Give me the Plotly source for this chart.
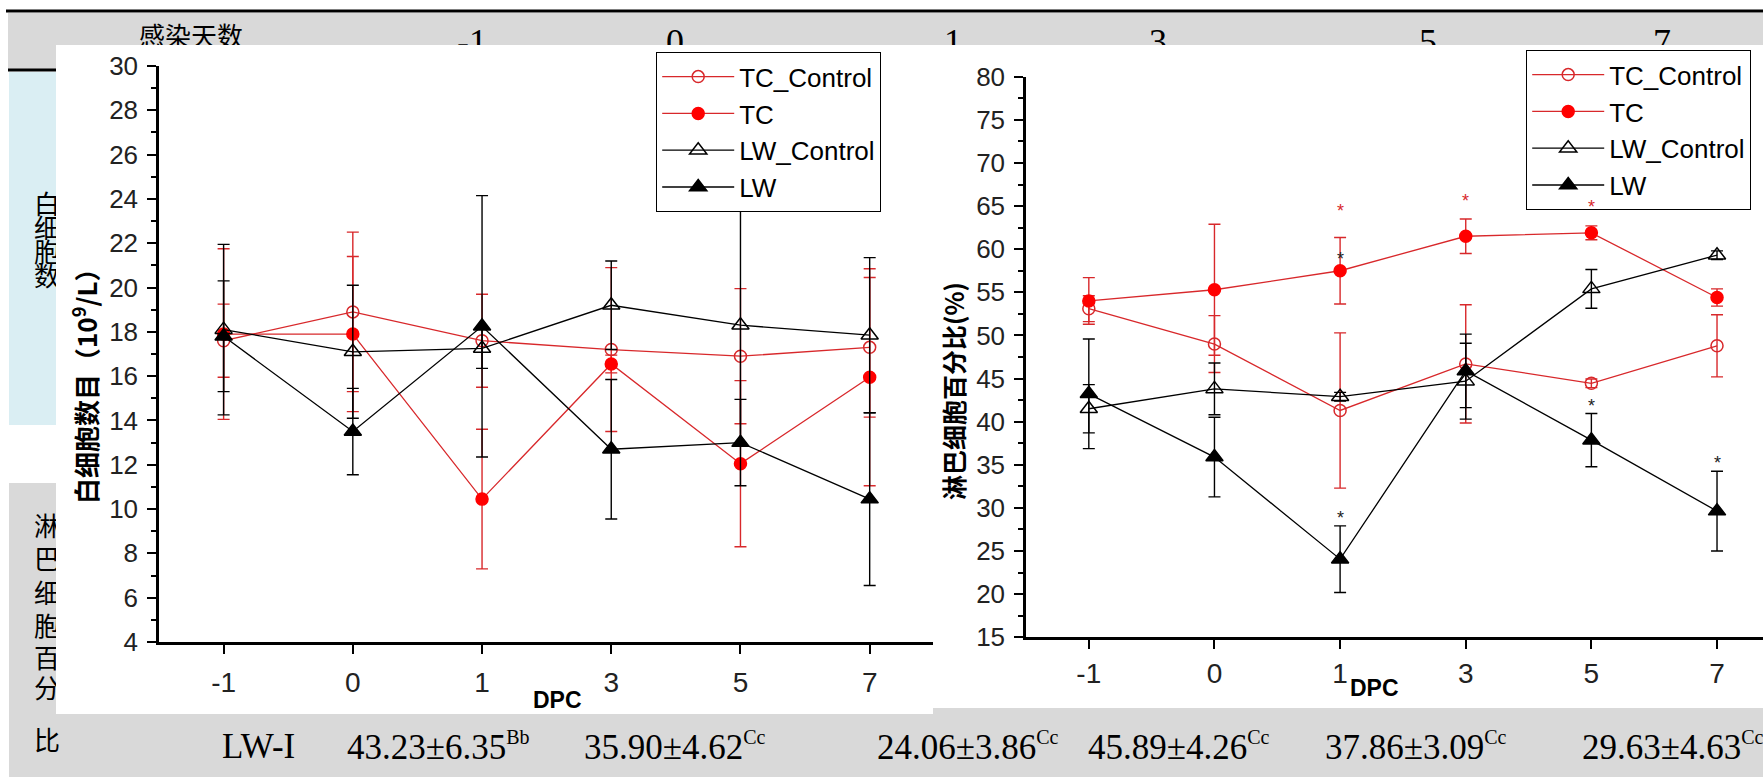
import plotly.graph_objects as go

W, H = 1763, 777


def px(x):
    return x / W


def py(y):
    return 1 - y / H


# ---------------- data ----------------
dpc = ["-1", "0", "1", "3", "5", "7"]
series_names = ["TC_Control", "TC", "LW_Control", "LW"]

wbc_tc_control = [17.6, 18.9, 17.6, 17.2, 16.9, 17.3]
wbc_tc_control_sd = [1.65, 3.6, 2.1, 3.7, 3.05, 3.15]
wbc_tc = [17.9, 17.9, 10.45, 16.55, 12.05, 15.95]
wbc_tc_sd = [3.85, 3.5, 3.15, 0.4, 3.75, 4.9]
wbc_lw_control = [18.1, 17.1, 17.25, 19.2, 18.3, 17.85]
wbc_lw_control_sd = [3.85, 3.0, 0.9, 2.0, 5.3, 3.5]
wbc_lw = [17.8, 13.5, 18.25, 12.7, 13.0, 10.45]
wbc_lw_sd = [2.5, 1.95, 5.9, 3.15, 1.95, 3.9]

lym_tc_control = [53.1, 49.0, 41.3, 46.7, 44.45, 48.8]
lym_tc_control_sd = [1.5, 3.3, 9.0, 6.85, 0.5, 3.6]
lym_tc = [54.0, 55.3, 57.5, 61.5, 61.9, 54.4]
lym_tc_sd = [2.7, 7.6, 3.85, 2.0, 0.8, 1.0]
lym_lw_control = [41.5, 43.8, 42.9, 44.7, 55.4, 59.3]
lym_lw_control_sd = [2.8, 3.0, 0.5, 4.4, 2.25, 0.5]
lym_lw = [43.23, 35.90, 24.06, 45.89, 37.86, 29.63]
lym_lw_sd = [6.35, 4.62, 3.86, 4.26, 3.09, 4.63]

star_x = ["1", "1", "1", "3", "5", "5", "7"]
star_y = [64.9, 59.3, 29.3, 66.1, 65.3, 42.3, 35.7]
star_is_red = [True, False, False, True, True, False, False]

wbc_yticks = [4, 6, 8, 10, 12, 14, 16, 18, 20, 22, 24, 26, 28, 30]
lym_yticks = [15, 20, 25, 30, 35, 40, 45, 50, 55, 60, 65, 70, 75, 80]

# table texts
header_texts = ["感染天数", "-1", "0", "1", "3", "5", "7"]
row1_label = "白细胞数"
row2_label = "淋巴细胞百分比"
bottom_texts = ["LW-I", "43.23±6.35", "35.90±4.62", "24.06±3.86",
                "45.89±4.26", "37.86±3.09", "29.63±4.63"]
bottom_sups = ["", "Bb", "Cc", "Cc", "Cc", "Cc", "Cc"]

# ---------------- layout positions (pixels) ----------------
header_x = [191, 472, 675, 953, 1158, 1428, 1662]
header_y = 38
row1_y = [206, 230, 254, 278]
row2_y = [528, 561, 595, 628, 660, 690, 742]
row_label_x = 47
bottom_x = [220, 345, 582, 875, 1086, 1323, 1580]
bottom_y = 746

RED_LINE = "#d8282b"
RED = "#ff0000"
BLACK = "#000000"

styles = {
    "TC_Control": dict(color=RED_LINE, mcolor=RED_LINE, symbol="circle-open", size=12),
    "TC": dict(color=RED_LINE, mcolor=RED, symbol="circle", size=12),
    "LW_Control": dict(color=BLACK, mcolor=BLACK, symbol="triangle-up-open", size=15),
    "LW": dict(color=BLACK, mcolor=BLACK, symbol="triangle-up", size=15),
}

fig = go.Figure()

left_sets = [(wbc_tc_control, wbc_tc_control_sd), (wbc_tc, wbc_tc_sd),
             (wbc_lw_control, wbc_lw_control_sd), (wbc_lw, wbc_lw_sd)]
right_sets = [(lym_tc_control, lym_tc_control_sd), (lym_tc, lym_tc_sd),
              (lym_lw_control, lym_lw_control_sd), (lym_lw, lym_lw_sd)]

for (vals, sds), name in zip(left_sets, series_names):
    st = styles[name]
    fig.add_trace(go.Scatter(
        x=dpc, y=vals, name=name, mode="lines+markers",
        xaxis="x", yaxis="y", legend="legend",
        line=dict(color=st["color"], width=1.3),
        marker=dict(symbol=st["symbol"], size=st["size"], color=st["mcolor"],
                    line=dict(width=1.5, color=st["mcolor"])),
        error_y=dict(type="data", array=sds, visible=True, color=st["color"],
                     thickness=1.4, width=6),
    ))

for (vals, sds), name in zip(right_sets, series_names):
    st = styles[name]
    fig.add_trace(go.Scatter(
        x=dpc, y=vals, name=name, mode="lines+markers",
        xaxis="x2", yaxis="y2", legend="legend2",
        line=dict(color=st["color"], width=1.3),
        marker=dict(symbol=st["symbol"], size=st["size"], color=st["mcolor"],
                    line=dict(width=1.5, color=st["mcolor"])),
        error_y=dict(type="data", array=sds, visible=True, color=st["color"],
                     thickness=1.4, width=6),
    ))

# ---------------- background table shapes ----------------
shapes = []


def rect(x0, y0, x1, y1, fill):
    return dict(type="rect", xref="paper", yref="paper", layer="below",
                x0=px(x0), x1=px(x1), y0=py(y1), y1=py(y0),
                line=dict(width=0), fillcolor=fill)


def hline(x0, x1, y, w):
    return dict(type="line", xref="paper", yref="paper", layer="below",
                x0=px(x0), x1=px(x1), y0=py(y), y1=py(y),
                line=dict(color="black", width=w))


def text_shape(cx, cy, text, size, family, w=240, h=60):
    return dict(type="rect", xref="paper", yref="paper", layer="below",
                x0=px(cx - w / 2), x1=px(cx + w / 2), y0=py(cy + h / 2), y1=py(cy - h / 2),
                line=dict(width=0), fillcolor="rgba(0,0,0,0)",
                label=dict(text=text, textposition="middle center",
                           font=dict(family=family, size=size, color="black")))


shapes.append(rect(8, 13, W, 69, "#d9d9d9"))
shapes.append(hline(6, W, 11, 3))
shapes.append(hline(8, W, 70, 3))
shapes.append(rect(9, 72, 940, 425, "#daeef3"))
shapes.append(rect(9, 483, W, H, "#d9d9d9"))

for i, (t, x) in enumerate(zip(header_texts, header_x)):
    if i == 0:
        shapes.append(text_shape(x, header_y, t, 26, "Noto Sans CJK SC"))
    else:
        shapes.append(text_shape(x, header_y, t, 36, "Liberation Serif", w=80))

for ch, yy in zip(row1_label, row1_y):
    shapes.append(text_shape(row_label_x, yy, ch, 26, "Noto Sans CJK SC", w=40, h=30))
for ch, yy in zip(row2_label, row2_y):
    shapes.append(text_shape(row_label_x, yy, ch, 26, "Noto Sans CJK SC", w=40, h=30))

# white chart panels (cover the table)
shapes.append(rect(56, 45, 933, 714, "white"))
shapes.append(rect(933, 45, W, 708, "white"))

# ---------------- annotations ----------------
ann = []
for t, s, x in zip(bottom_texts, bottom_sups, bottom_x):
    txt = t if not s else f"{t}<sup><span style='font-size:20px'>{s}</span></sup>"
    ann.append(dict(xref="paper", yref="paper", x=px(x), y=py(bottom_y), text=txt,
                    showarrow=False, xanchor="left", yanchor="middle",
                    font=dict(family="Liberation Serif", size=35, color="black")))

ann.append(dict(xref="paper", yref="paper", x=px(84), y=py(380),
                text="<b>白细胞数目（10<sup>9</sup>/L）</b>", textangle=-90,
                showarrow=False, xanchor="center", yanchor="middle",
                font=dict(family="Noto Sans CJK SC", size=26, color="black")))
ann.append(dict(xref="paper", yref="paper", x=px(953), y=py(391),
                text="<b>淋巴细胞百分比(%)</b>", textangle=-90,
                showarrow=False, xanchor="center", yanchor="middle",
                font=dict(family="Noto Sans CJK SC", size=25, color="black")))
ann.append(dict(xref="paper", yref="paper", x=px(557), y=py(700), text="<b>DPC</b>",
                showarrow=False, xanchor="center", yanchor="middle",
                font=dict(family="Liberation Sans", size=23, color="black")))
ann.append(dict(xref="paper", yref="paper", x=px(1374), y=py(688), text="<b>DPC</b>",
                showarrow=False, xanchor="center", yanchor="middle",
                font=dict(family="Liberation Sans", size=23, color="black")))

for sx, sy, red in zip(star_x, star_y, star_is_red):
    ann.append(dict(xref="x2", yref="y2", x=dpc.index(sx), y=sy, text="*", showarrow=False,
                    xanchor="center", yanchor="middle", yshift=-4,
                    font=dict(family="Liberation Sans", size=18,
                              color=RED_LINE if red else "#222222")))

ytickfont = dict(family="Liberation Sans", size=26, color="#222222")
xtickfont = dict(family="Liberation Sans", size=28, color="#222222")

axis_common = dict(showline=True, linecolor="black", linewidth=2.5, showgrid=False,
                   zeroline=False, ticks="outside", tickcolor="black", tickwidth=2,
                   ticklen=9, automargin=False)

legend_common = dict(xanchor="left", yanchor="top", bgcolor="white", bordercolor="black",
                     borderwidth=1.2, tracegroupgap=0, itemwidth=72,
                     font=dict(family="Liberation Sans", size=26, color="black"))

fig.update_layout(
    width=W, height=H, margin=dict(l=0, r=0, t=0, b=0, autoexpand=False),
    paper_bgcolor="white", plot_bgcolor="rgba(0,0,0,0)",
    showlegend=True,
    shapes=shapes, annotations=ann,
    xaxis=dict(domain=[px(159), px(933)], range=[-0.5, 5.49], type="category",
               anchor="y", ticklabelstandoff=5, tickfont=xtickfont, **axis_common),
    yaxis=dict(domain=[py(642), py(66)], range=[4, 30], anchor="x",
               tickvals=wbc_yticks, ticklabelstandoff=4, tickfont=ytickfont,
               minor=dict(dtick=1, ticks="outside", ticklen=5, tickwidth=1.5,
                          tickcolor="black"),
               **axis_common),
    xaxis2=dict(domain=[px(1026), 1.0], range=[-0.5, 5.366], type="category",
                anchor="y2", ticklabelstandoff=0, tickfont=xtickfont, **axis_common),
    yaxis2=dict(domain=[py(637.3), py(76.7)], range=[15, 80], anchor="x2",
                tickvals=lym_yticks, ticklabelstandoff=4, tickfont=ytickfont,
                minor=dict(dtick=2.5, ticks="outside", ticklen=5, tickwidth=1.5,
                           tickcolor="black"),
                **axis_common),
    legend=dict(x=px(656), y=py(52), **legend_common),
    legend2=dict(x=px(1526), y=py(50), **legend_common),
)

fig.write_html("out.html")
